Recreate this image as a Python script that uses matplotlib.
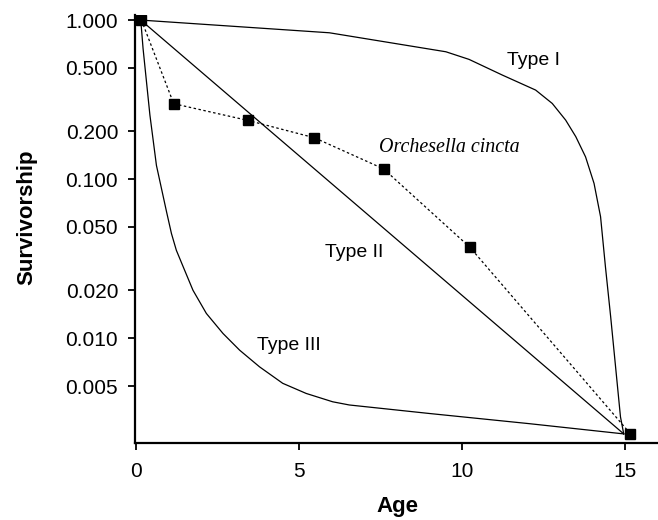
import matplotlib.pyplot as plt

# Orchesella cincta life-table survivorship
orch_age = [0.17, 1.16, 3.43, 5.47, 7.59, 10.24, 15.15]
orch_surv = [1.0, 0.298, 0.234, 0.182, 0.116, 0.0372, 0.00251]

# idealised survivorship curves
type1_age = [0.15, 5.93, 9.50, 10.21, 11.23, 12.25, 12.76, 13.17, 13.48, 13.78,
             14.04, 14.24, 14.39, 14.55, 14.70, 14.85, 14.95]
type1_surv = [1.0, 0.832, 0.632, 0.566, 0.451, 0.363, 0.299, 0.235, 0.185, 0.138,
              0.094, 0.058, 0.028, 0.0136, 0.0066, 0.0032, 0.0025]

type2_age = [0.15, 14.95]
type2_surv = [1.0, 0.0025]

type3_age = [0.15, 0.22, 0.43, 0.63, 0.94, 1.09, 1.24, 1.45, 1.75, 2.16, 2.67, 3.18,
             3.79, 4.50, 5.22, 6.03, 6.54, 8.99, 12.05, 14.95]
type3_surv = [1.0, 0.664, 0.253, 0.122, 0.0623, 0.0455, 0.0357, 0.0281, 0.020, 0.0143,
              0.0107, 0.0084, 0.0066, 0.0052, 0.00449, 0.00398, 0.0038, 0.00336, 0.0029, 0.0025]

yticks = [1.0, 0.5, 0.2, 0.1, 0.05, 0.02, 0.01, 0.005]
ytick_labels = ["1.000", "0.500", "0.200", "0.100", "0.050", "0.020", "0.010", "0.005"]
xticks = [0, 5, 10, 15]

plt.rcParams['font.family'] = ['Liberation Sans', 'DejaVu Sans']

fig = plt.figure(figsize=(6.58, 5.2), dpi=100)
ax = fig.add_axes([0.205, 0.148, 0.795, 0.823])

ax.plot(type1_age, type1_surv, color="black", linewidth=0.9)
ax.plot(type2_age, type2_surv, color="black", linewidth=0.9)
ax.plot(type3_age, type3_surv, color="black", linewidth=0.9)
ax.plot(orch_age, orch_surv, color="black", linewidth=0.9, linestyle=(0, (2, 2)),
        marker="s", markersize=7.5, markerfacecolor="black", markeredgecolor="black")

ax.set_yscale("log")
ax.set_ylim(0.00219, 1.075)
ax.set_xlim(-0.03, 16.0)
ax.set_yticks(yticks)
ax.set_yticklabels(ytick_labels)
ax.minorticks_off()
ax.set_xticks(xticks)

for side in ["top", "right"]:
    ax.spines[side].set_visible(False)
for side in ["left", "bottom"]:
    ax.spines[side].set_linewidth(1.6)
ax.tick_params(axis="both", direction="out", length=5, width=1.3, labelsize=15)
ax.tick_params(axis="y", pad=7)
ax.tick_params(axis="x", pad=9)

ax.set_xlabel("Age", fontsize=16, fontweight="bold")
ax.set_ylabel("Survivorship", fontsize=16, fontweight="bold")
ax.xaxis.set_label_coords(0.501, -0.124)
ax.yaxis.set_label_coords(-0.187, 0.528)

ax.text(11.38, 0.521, "Type I", fontsize=14, va="baseline")
ax.text(5.81, 0.0325, "Type II", fontsize=14, va="baseline")
ax.text(3.70, 0.0084, "Type III", fontsize=14, va="baseline")
ax.text(7.46, 0.1485, "Orchesella cincta", fontsize=14.4, style="italic", va="baseline",
        family=["Liberation Serif", "DejaVu Serif"])

fig.savefig("out.png", dpi=100)
